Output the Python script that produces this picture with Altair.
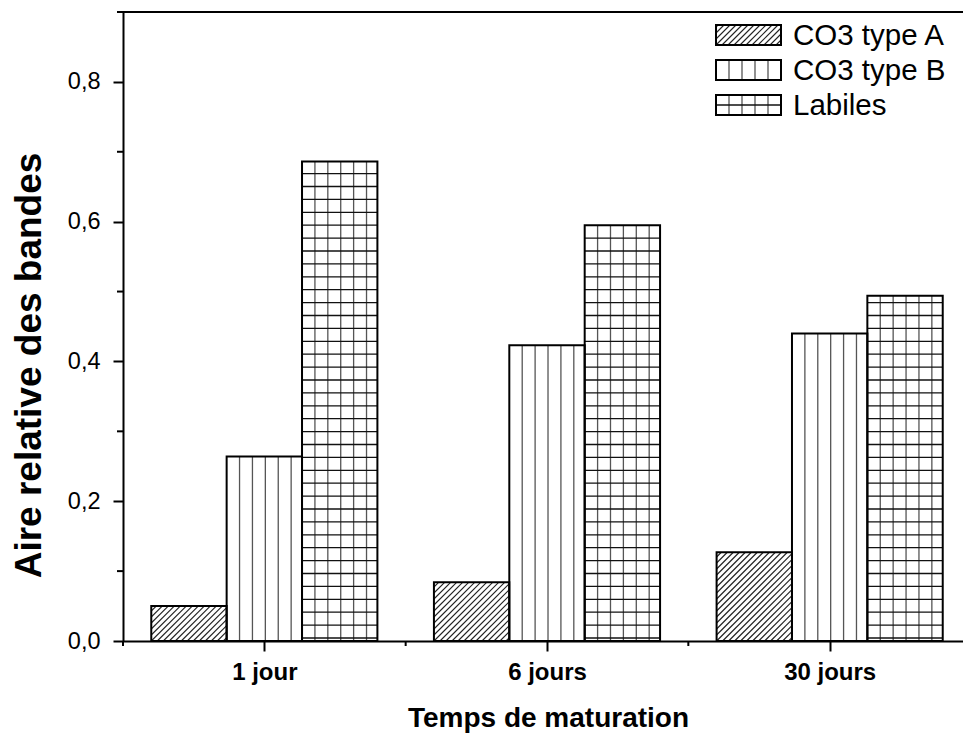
import json
import math

import altair as alt
import pandas as pd

# ---- data -------------------------------------------------------------
categories = ["1 jour", "6 jours", "30 jours"]
series = ["CO3 type A", "CO3 type B", "Labiles"]
type_a = [0.050, 0.084, 0.127]
type_b = [0.264, 0.423, 0.440]
labiles = [0.686, 0.595, 0.494]
y_major_ticks = [0.0, 0.2, 0.4, 0.6, 0.8]
y_minor_ticks = [0.1, 0.3, 0.5, 0.7, 0.9]
x_minor_ticks = [0, 1, 2]

# ---- layout / style ---------------------------------------------------
W, H = 840, 629            # plot area in px
XMAX, YMAX = 2.9717, 0.9   # axis extents (category units, y units)
KX, KY = W / XMAX, H / YMAX
GROUP_PAD = 0.1
BAR_W = (1 - 2 * GROUP_PAD) / 3
FONT = "Liberation Sans"
HATCH_STEP = 6.0     # px, horizontal spacing of the diagonal hatch
GRID_STEP = 12.9     # px, spacing of the vertical / horizontal lines
GRID_BASE = 3.0      # px, first horizontal grid line above the baseline

values = {"CO3 type A": type_a, "CO3 type B": type_b, "Labiles": labiles}


def diagonal_hatch(x0, x1, h, step):
    """Segments of a '/' hatch clipped to [x0,x1] x [0,h] (px, y up)."""
    segs = []
    kmin = -int(math.ceil(h / step)) - 1
    kmax = int(math.ceil((x1 - x0) / step)) + 1
    for k in range(kmin, kmax + 1):
        c = x0 + k * step
        xs, xe = max(x0, c), min(x1, c + h)
        if xe - xs > 0.6:
            segs.append((xs, xs - c, xe, xe - c))
    return segs


bars, hatch, vlines, hlines = [], [], [], []
for i, cat in enumerate(categories):
    for j, s in enumerate(series):
        v = values[s][i]
        x0 = i + GROUP_PAD + j * BAR_W
        x1 = x0 + BAR_W
        bars.append({"cat": cat, "series": s, "x0": x0, "x1": x1, "v": v})
        px0, px1, ph = x0 * KX, x1 * KX, v * KY
        if s == "CO3 type A":
            for a, b, c, d in diagonal_hatch(px0, px1, ph, HATCH_STEP):
                hatch.append({"x": a / KX, "y": b / KY, "x2": c / KX, "y2": d / KY})
        else:
            k = 1
            while px0 + k * GRID_STEP < px1 - 3:
                vlines.append({"x": (px0 + k * GRID_STEP) / KX, "y": 0.0, "y2": v})
                k += 1
        if s == "Labiles":
            k = 0
            while GRID_BASE + k * GRID_STEP < ph - 2:
                yy = (GRID_BASE + k * GRID_STEP) / KY
                hlines.append({"x": x0, "x2": x1, "y": yy})
                k += 1

bars_df = pd.DataFrame(bars)

x_enc = alt.X("x0:Q", scale=alt.Scale(domain=[0, XMAX], nice=False, zero=False),
              axis=alt.Axis(values=[0.5, 1.5, 2.5],
                            labelExpr=json.dumps(categories) + "[floor(datum.value)]",
                            title="Temps de maturation", grid=False,
                            domainWidth=2, domainColor="black", tickWidth=2,
                            tickColor="black", tickSize=10, labelPadding=9,
                            labelFont=FONT, labelFontSize=24, labelFontWeight="bold",
                            labelColor="black", titleFont=FONT, titleFontSize=28,
                            titleFontWeight="bold", titleColor="black",
                            titleX=425, titleY=77, titleBaseline="middle"))
y_enc = alt.Y("v:Q", scale=alt.Scale(domain=[0, YMAX], nice=False),
              axis=alt.Axis(values=y_major_ticks,
                            labelExpr="replace(format(datum.value, '.1f'), '.', ',')",
                            title="Aire relative des bandes", grid=False,
                            domainWidth=2, domainColor="black", tickWidth=2,
                            tickColor="black", tickSize=10, labelPadding=13,
                            labelFont=FONT, labelFontSize=23.5, labelColor="black",
                            titleFont=FONT, titleFontSize=37, titleFontWeight="bold",
                            titleColor="black", titleX=-94, titleY=353,
                            titleBaseline="middle", titleAlign="center"))

base_bars = alt.Chart(bars_df).mark_rect(fill="white", stroke=None).encode(
    x=x_enc, x2="x1:Q", y=y_enc, y2=alt.datum(0))

hatch_layer = alt.Chart(pd.DataFrame(hatch)).mark_rule(
    color="#222222", strokeWidth=1.1).encode(x="x:Q", x2="x2:Q", y="y:Q", y2="y2:Q")
vline_layer = alt.Chart(pd.DataFrame(vlines)).mark_rule(
    color="#555555", strokeWidth=1.3).encode(x="x:Q", y="y:Q", y2="y2:Q")
hline_layer = alt.Chart(pd.DataFrame(hlines)).mark_rule(
    color="#111111", strokeWidth=1.3).encode(x="x:Q", x2="x2:Q", y="y:Q")

outline = alt.Chart(bars_df).mark_rect(fill=None, stroke="black", strokeWidth=2).encode(
    x="x0:Q", x2="x1:Q", y="v:Q", y2=alt.datum(0))

# minor ticks and top frame line
x_minor = alt.Chart(pd.DataFrame({"x": x_minor_ticks})).mark_rule(
    color="black", strokeWidth=2).encode(x="x:Q", y=alt.value(H), y2=alt.value(H + 5))
y_minor = alt.Chart(pd.DataFrame({"y": y_minor_ticks})).mark_rule(
    color="black", strokeWidth=2).encode(y="y:Q", x=alt.value(-6), x2=alt.value(0))
top_line = alt.Chart(pd.DataFrame({"y": [YMAX]})).mark_rule(
    color="black", strokeWidth=2).encode(y="y:Q", x=alt.value(0), x2=alt.value(W))

# ---- legend (pixel space) ---------------------------------------------
LEG_X0, LEG_W, LEG_H = 593, 65, 20
LEG_ROWS = [23, 58, 93]
LEG_TEXT_X = 670
leg_box, leg_hatch, leg_v, leg_h, leg_txt = [], [], [], [], []
for s, cy in zip(series, LEG_ROWS):
    top, bot = cy - LEG_H / 2, cy + LEG_H / 2
    leg_box.append({"x": LEG_X0, "x2": LEG_X0 + LEG_W, "y": top, "y2": bot})
    leg_txt.append({"x": LEG_TEXT_X, "y": cy + 1, "t": s})
    if s == "CO3 type A":
        for a, b, c, d in diagonal_hatch(LEG_X0, LEG_X0 + LEG_W, LEG_H, HATCH_STEP):
            leg_hatch.append({"x": a, "y": bot - b, "x2": c, "y2": bot - d})
    else:
        for k in range(1, 5):
            leg_v.append({"x": LEG_X0 + k * LEG_W / 5, "y": top, "y2": bot})
    if s == "Labiles":
        leg_h.append({"x": LEG_X0, "x2": LEG_X0 + LEG_W, "y": cy})

px = dict(scale=None)
leg_hatch_layer = alt.Chart(pd.DataFrame(leg_hatch)).mark_rule(
    color="#222222", strokeWidth=1.1).encode(
    x=alt.X("x:Q", **px), x2="x2:Q", y=alt.Y("y:Q", **px), y2="y2:Q")
leg_v_layer = alt.Chart(pd.DataFrame(leg_v)).mark_rule(
    color="#555555", strokeWidth=1.3).encode(
    x=alt.X("x:Q", **px), y=alt.Y("y:Q", **px), y2="y2:Q")
leg_h_layer = alt.Chart(pd.DataFrame(leg_h)).mark_rule(
    color="#111111", strokeWidth=1.3).encode(
    x=alt.X("x:Q", **px), x2="x2:Q", y=alt.Y("y:Q", **px))
leg_box_layer = alt.Chart(pd.DataFrame(leg_box)).mark_rect(
    fill=None, stroke="black", strokeWidth=2).encode(
    x=alt.X("x:Q", **px), x2="x2:Q", y=alt.Y("y:Q", **px), y2="y2:Q")
leg_txt_layer = alt.Chart(pd.DataFrame(leg_txt)).mark_text(
    align="left", baseline="middle", font=FONT, fontSize=29.5, color="black").encode(
    x=alt.X("x:Q", **px), y=alt.Y("y:Q", **px), text="t:N")

chart = alt.layer(
    base_bars, hatch_layer, vline_layer, hline_layer, outline,
    x_minor, y_minor, top_line,
    leg_hatch_layer, leg_v_layer, leg_h_layer, leg_box_layer, leg_txt_layer,
).properties(
    width=W, height=H,
    autosize=alt.AutoSizeParams(type="none"),
    padding={"left": 123, "top": 12, "right": 0, "bottom": 97},
    background="white",
).configure_view(stroke=None)

chart.save("out.html", embed_options={"renderer": "svg", "actions": False})
